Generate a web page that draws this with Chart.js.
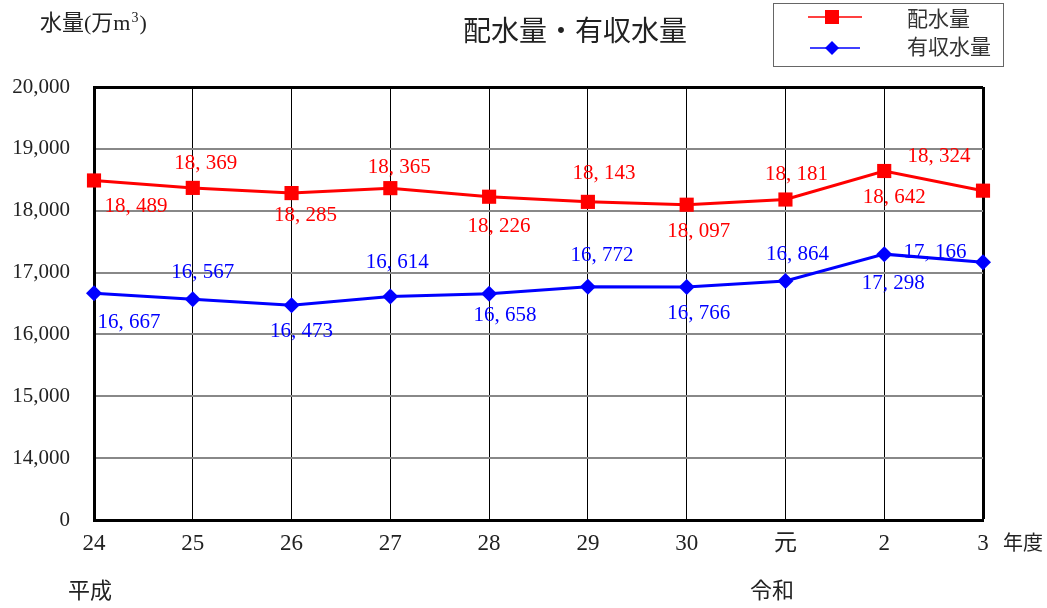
<!DOCTYPE html>
<html lang="ja">
<head>
    <meta charset="UTF-8">
    <title>配水量・有収水量</title>
    <script src="https://cdn.jsdelivr.net/npm/chart.js"></script>
    <style>
        body {
            margin: 0;
            background-color: #ffffff;
        }
        .wrap {
            width: 1047px;
            height: 608px;
        }
    </style>
</head>
<body>
    <div class="wrap">
        <canvas id="waterChart" width="1047" height="608"></canvas>
    </div>

    <script>
        // 年度 (平成24 ～ 令和3)
        const years = ['24', '25', '26', '27', '28', '29', '30', '元', '2', '3'];
        // 配水量 (万m3)
        const distributed = [18489, 18369, 18285, 18365, 18226, 18143, 18097, 18181, 18642, 18324];
        // 有収水量 (万m3)
        const billed = [16667, 16567, 16473, 16614, 16658, 16772, 16766, 16864, 17298, 17166];
        // y axis ticks; the lowest one stands for the axis break and is shown as 0
        const yTicks = [13000, 14000, 15000, 16000, 17000, 18000, 19000, 20000];

        const serif = "'Liberation Serif', 'Noto Sans CJK JP', serif";
        const cjk = "'Noto Sans CJK JP', sans-serif";

        // label offsets from each point (dx, dy)
        const redLabelOffsets = [[42, 26], [13, -24], [14, 22], [9, -21], [10, 30], [16, -28], [12, 27], [11, -25], [10, 26], [-44, -34]];
        const blueLabelOffsets = [[35, 29], [10, -27], [10, 26], [7, -34], [16, 22], [14, -31], [12, 26], [12, -26], [9, 29], [-48, -10]];

        function fmt(v) {
            const s = String(v);
            return s.slice(0, s.length - 3) + ', ' + s.slice(-3);
        }

        const valueLabels = {
            id: 'valueLabels',
            afterDatasetsDraw(chart) {
                const ctx = chart.ctx;
                const sets = [
                    { idx: 0, color: '#ff0000', offs: redLabelOffsets },
                    { idx: 1, color: '#0000ff', offs: blueLabelOffsets }
                ];
                ctx.save();
                ctx.font = '21px ' + serif;
                ctx.textAlign = 'center';
                ctx.textBaseline = 'middle';
                sets.forEach(s => {
                    const meta = chart.getDatasetMeta(s.idx);
                    const values = chart.data.datasets[s.idx].data;
                    ctx.fillStyle = s.color;
                    meta.data.forEach((pt, i) => {
                        const o = s.offs[i];
                        ctx.fillText(fmt(values[i]), pt.x + o[0], pt.y + o[1]);
                    });
                });
                ctx.restore();
            }
        };

        const extras = {
            id: 'extras',
            afterDraw(chart) {
                const ctx = chart.ctx;
                ctx.save();
                ctx.fillStyle = '#222';
                ctx.textBaseline = 'middle';

                // title
                ctx.font = '28px ' + cjk;
                ctx.textAlign = 'center';
                ctx.fillText('配水量・有収水量', 575, 30);

                // y unit
                ctx.textAlign = 'left';
                ctx.font = '22px ' + serif;
                let x = 40;
                const part1 = '水量(万m';
                ctx.fillText(part1, x, 24);
                x += ctx.measureText(part1).width;
                ctx.font = '14px ' + serif;
                ctx.fillText('3', x + 1, 18);
                x += ctx.measureText('3').width + 2;
                ctx.font = '22px ' + serif;
                ctx.fillText(')', x, 24);

                // x axis notes
                ctx.font = '20px ' + cjk;
                ctx.fillText('年度', 1003, 542);
                ctx.font = '22px ' + cjk;
                ctx.fillText('平成', 68, 590);
                ctx.fillText('令和', 750, 590);

                // legend
                ctx.strokeStyle = '#666';
                ctx.lineWidth = 1;
                ctx.strokeRect(773.5, 3.5, 230, 63);

                ctx.strokeStyle = '#ff0000';
                ctx.lineWidth = 1.5;
                ctx.beginPath();
                ctx.moveTo(808, 17);
                ctx.lineTo(862, 17);
                ctx.stroke();
                ctx.fillStyle = '#ff0000';
                ctx.fillRect(825, 10, 14, 14);

                ctx.strokeStyle = '#0000ff';
                ctx.beginPath();
                ctx.moveTo(810, 48);
                ctx.lineTo(860, 48);
                ctx.stroke();
                ctx.fillStyle = '#0000ff';
                ctx.beginPath();
                ctx.moveTo(832, 41);
                ctx.lineTo(839, 48);
                ctx.lineTo(832, 55);
                ctx.lineTo(825, 48);
                ctx.closePath();
                ctx.fill();

                ctx.fillStyle = '#333';
                ctx.font = '21px ' + cjk;
                ctx.fillText('配水量', 907, 18);
                ctx.fillText('有収水量', 907, 46);

                ctx.restore();
            }
        };

        const lastX = years.length - 1;

        const waterChart = new Chart(document.getElementById('waterChart').getContext('2d'), {
            type: 'line',
            data: {
                labels: years,
                datasets: [{
                    label: '配水量',
                    data: distributed,
                    borderColor: '#ff0000',
                    backgroundColor: '#ff0000',
                    borderWidth: 3,
                    pointStyle: 'rect',
                    pointRadius: 10,
                    pointBorderWidth: 0,
                    tension: 0,
                    fill: false
                }, {
                    label: '有収水量',
                    data: billed,
                    borderColor: '#0000ff',
                    backgroundColor: '#0000ff',
                    borderWidth: 3,
                    pointStyle: 'rectRot',
                    pointRadius: 8,
                    pointBorderWidth: 0,
                    tension: 0,
                    fill: false
                }]
            },
            options: {
                responsive: false,
                animation: false,
                layout: {
                    padding: { left: 0, top: 87, right: 64, bottom: 0 }
                },
                plugins: {
                    legend: { display: false },
                    tooltip: { enabled: false }
                },
                scales: {
                    x: {
                        offset: false,
                        grid: {
                            offset: false,
                            drawTicks: false,
                            color: '#000',
                            lineWidth: c => (c.index === lastX ? 3 : 1)
                        },
                        border: { display: true, color: '#000', width: 3 },
                        ticks: {
                            padding: 10,
                            color: '#222',
                            font: { family: serif, size: 23 },
                            maxRotation: 0,
                            autoSkip: false
                        },
                        afterFit(scale) { scale.height = 88; }
                    },
                    y: {
                        min: 13000,
                        max: 20000,
                        afterBuildTicks(scale) {
                            scale.ticks = yTicks.map(v => ({ value: v }));
                        },
                        grid: {
                            drawTicks: false,
                            color: c => (c.tick && (c.tick.value === 20000 || c.tick.value === 13000) ? '#000' : '#888'),
                            lineWidth: c => (c.tick && (c.tick.value === 20000 || c.tick.value === 13000) ? 3 : 2)
                        },
                        border: { display: true, color: '#000', width: 3 },
                        ticks: {
                            padding: 24,
                            color: '#222',
                            font: { family: serif, size: 21 },
                            callback: v => (v === 13000 ? '0' : v.toLocaleString('en-US'))
                        },
                        afterFit(scale) { scale.width = 94; }
                    }
                }
            },
            plugins: [valueLabels, extras]
        });
    </script>
</body>
</html>
